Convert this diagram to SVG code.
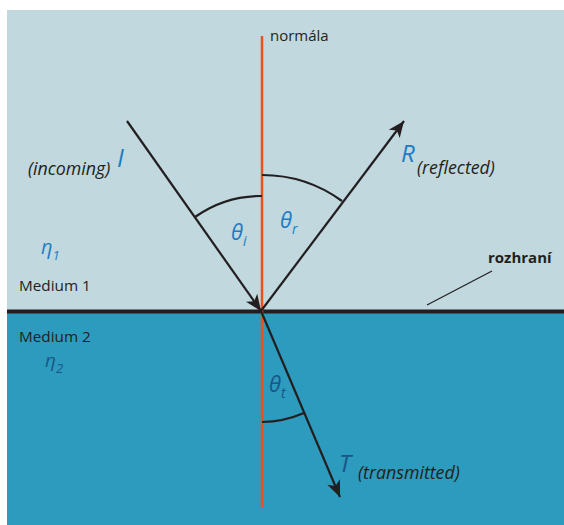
<svg xmlns="http://www.w3.org/2000/svg" width="564" height="525" viewBox="0 0 564 525">
<style>
.lbl{font-family:"Open Sans","Noto Sans",sans-serif;fill:#231f20}
.it{font-style:italic}
.blue{fill:#1d7cc4}
.dblue{fill:#1a5686}
.ray{stroke:#231f20;stroke-width:2.2;fill:none}
.arc{stroke:#231f20;stroke-width:2.2;fill:none}
</style>
<defs>
<marker id="ah" markerUnits="userSpaceOnUse" markerWidth="20" markerHeight="20" viewBox="-14 -7 16 14" refX="0" refY="0" orient="auto">
<path d="M0,0 L-13,-5.5 L-9.5,0 L-13,5.5 Z" fill="#231f20"/>
</marker>
</defs>
<rect width="564" height="525" fill="#ffffff"/>
<g id="medium1"><rect x="7" y="10" width="557" height="302" fill="#c0d8de"/></g>
<g id="medium2"><rect x="7" y="312" width="557" height="213" fill="#2c9bbd"/></g>
<g id="connectors">
<line x1="7" y1="311.5" x2="564" y2="311.5" stroke="#231f20" stroke-width="4"/>
<line x1="262" y1="36" x2="262" y2="507" stroke="#e8521f" stroke-width="2.5"/>
<line x1="427" y1="305" x2="492" y2="271" stroke="#231f20" stroke-width="1.2"/>
<path class="ray" d="M127,121 L261,311" marker-end="url(#ah)"/>
<path class="ray" d="M261,311 L404,121" marker-end="url(#ah)"/>
<path class="ray" d="M261,311 L340,497" marker-end="url(#ah)"/>
<path class="arc" d="M262,196 A115,115 0 0 0 195,217"/>
<path class="arc" d="M262,175 A136,136 0 0 1 342,201"/>
<path class="arc" d="M262,422 A111,111 0 0 0 304,413"/>
</g>
<g id="normal-label"><text class="lbl" x="270" y="41" font-size="15">normála</text></g>
<g id="interface-label"><text class="lbl" x="488" y="263" font-size="15" font-weight="bold">rozhraní</text></g>
<g id="medium1-label"><text class="lbl" x="19" y="291" font-size="15.3">Medium 1</text></g>
<g id="medium2-label"><text class="lbl" x="19" y="342" font-size="15.3">Medium 2</text></g>
<g id="eta1"><text class="lbl it blue" x="41" y="254" font-size="20">η<tspan font-size="13" dy="6">1</tspan></text></g>
<g id="eta2"><text class="lbl it dblue" x="45" y="367" font-size="19">η<tspan font-size="13" dy="6">2</tspan></text></g>
<g id="incoming">
<text class="lbl it" x="28" y="175" font-size="17.8">(incoming)</text>
<text class="lbl it blue" x="117" y="167" font-size="25">I</text>
</g>
<g id="reflected">
<text class="lbl it blue" x="401" y="162" font-size="24">R</text>
<text class="lbl it" x="417" y="174" font-size="17.8">(reflected)</text>
</g>
<g id="transmitted">
<text class="lbl it dblue" x="339" y="472" font-size="24">T</text>
<text class="lbl it" x="358" y="479" font-size="17.8">(transmitted)</text>
</g>
<g id="theta-i"><text class="lbl it blue" x="231" y="240" font-size="22">θ<tspan font-size="14" dy="6">i</tspan></text></g>
<g id="theta-r"><text class="lbl it blue" x="280" y="228" font-size="22">θ<tspan font-size="14" dy="6">r</tspan></text></g>
<g id="theta-t"><text class="lbl it dblue" x="269" y="392" font-size="22">θ<tspan font-size="14" dy="6">t</tspan></text></g>
</svg>
